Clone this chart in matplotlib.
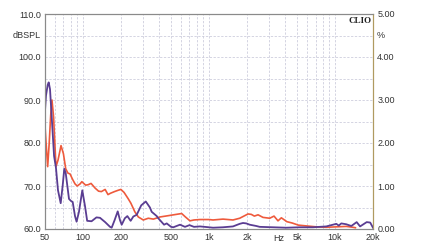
import matplotlib
matplotlib.use("Agg")
import matplotlib.pyplot as plt
from matplotlib.ticker import FixedLocator, NullFormatter, NullLocator

# ---- data ----
purple_freq = [50, 50.9, 52.5, 53.5, 54.8, 56.8, 59, 61.1, 63.4, 66.6, 69, 71.1, 73, 77.5,
               80.5, 82.9, 86.5, 89, 93, 98.8, 104, 108, 117, 128, 136.6, 150, 164, 169,
               178, 188.7, 197, 203, 215, 225, 239, 251, 267, 290, 315, 340, 351, 385,
               396, 440, 462, 500, 521, 589, 645, 700, 760, 848, 1000, 1076, 1291, 1550,
               1752, 1861, 1977, 2103, 2373, 2524, 3220, 4104, 5241, 6683, 8521, 9336,
               10228, 10700, 11208, 12280, 13456, 14845, 15800, 17825, 19000, 20000]
purple_db = [87.5, 91, 93.5, 94.1, 92.5, 85, 77, 74.2, 69, 66, 70, 74.0, 73, 67,
             66.5, 66.3, 63, 61.7, 64, 69, 65.2, 61.9, 61.8, 62.7, 62.6, 61.6, 60.5, 60.3,
             62, 64.1, 62, 61, 62.5, 63, 61.9, 62.9, 63.3, 65.5, 66.4, 65, 64, 63,
             62.5, 61, 61.3, 60.5, 60.4, 61, 60.5, 60.9, 60.5, 60.6, 60.4, 60.3, 60.4, 60.6,
             61.2, 61.4, 61.3, 61.0, 60.7, 60.5, 60.4, 60.3, 60.4, 60.4, 60.6, 60.9,
             61.2, 60.8, 61.3, 61.1, 60.7, 61.6, 60.6, 61.6, 61.5, 60.3]

red_freq = [50, 51, 52.5, 54, 55.5, 56.8, 58.5, 61.1, 63.4, 67, 70, 73, 76, 79, 82.9,
            86.5, 90, 95, 98, 105, 110, 116, 125, 133, 140, 150, 158, 165, 178, 190,
            200, 212, 229, 240, 258, 275, 301, 330, 362, 409, 475, 607, 650, 706, 760,
            848, 1000, 1076, 1291, 1550, 1752, 2040, 2165, 2290, 2450, 2681, 3030,
            3280, 3526, 3750, 4150, 4560, 5120, 6000, 7099, 8521, 10228, 12280, 13878,
            14500]
red_db = [84, 80, 74.5, 80, 86.5, 90, 86, 74.5, 76, 79.4, 77.5, 74, 73, 72.8, 71.5,
          70.5, 70, 70.5, 71, 70.2, 70.3, 70.6, 69.5, 68.8, 68.7, 69.2, 68.0, 68.3, 68.7, 69,
          69.2, 68.5, 67, 66, 64, 62.8, 62.1, 62.5, 62.3, 62.8, 63.1, 63.6, 62.8, 61.9, 62.1,
          62.2, 62.2, 62.1, 62.3, 62.1, 62.5, 63.5, 63.4, 63.0, 63.3, 62.7, 62.5,
          63.0, 61.9, 62.6, 61.7, 61.4, 60.9, 60.7, 60.5, 60.4, 60.5, 60.6, 60.4,
          60.3]

x_ticks = [50, 100, 200, 500, 1000, 2000, 5000, 10000, 20000]
x_tick_labels = ["50", "100", "200", "500", "1k", "2k", "5k", "10k", "20k"]
left_ticks = [60, 70, 80, 90, 100, 110]
left_tick_labels = ["60.0", "70.0", "80.0", "90.0", "100.0", "110.0"]
right_ticks = [0, 1, 2, 3, 4, 5]
right_tick_labels = ["0.00", "1.00", "2.00", "3.00", "4.00", "5.00"]

# ---- figure ----
plt.rcParams['font.family'] = ['Liberation Sans', 'DejaVu Sans']
fig = plt.figure(figsize=(4.27, 2.46), dpi=100)
ax = fig.add_axes([45/427, 1-229/246, (373-45)/427, (229-14)/246])

ax.set_xscale('log')
ax.set_xlim(50, 20000)
ax.set_ylim(60, 110)

grid_col = '#c9c9da'
vgrid = [50, 60, 70, 80, 90, 100, 200, 300, 400, 500, 600, 700, 800, 900,
         1000, 2000, 3000, 4000, 5000, 6000, 7000, 8000, 9000, 10000, 20000]
for v in vgrid:
    ax.axvline(v, color=grid_col, lw=0.55, ls=(0, (3, 2)), zorder=1)
for h in range(65, 110, 5):
    ax.axhline(h, color=grid_col, lw=0.55, ls=(0, (3, 2)), zorder=1)

ax.plot(red_freq, red_db, color='#ee5a3c', lw=1.2, zorder=3)
ax.plot(purple_freq, purple_db, color='#5a3d92', lw=1.3, zorder=4)

ax.xaxis.set_major_locator(FixedLocator(x_ticks))
ax.xaxis.set_minor_locator(NullLocator())
ax.xaxis.set_minor_formatter(NullFormatter())
ax.set_xticklabels(x_tick_labels)
ax.set_yticks(left_ticks)
ax.set_yticklabels(left_tick_labels)
ax.tick_params(axis='both', length=0, labelsize=6.5, colors='#333333', pad=3)

ax2 = ax.twinx()
ax2.set_ylim(0, 5)
ax2.set_yticks(right_ticks)
ax2.set_yticklabels(right_tick_labels)
ax2.tick_params(axis='y', length=0, labelsize=6.5, colors='#333333', pad=3)

for a in (ax, ax2):
    for s in ('left', 'bottom', 'top'):
        a.spines[s].set_color('#8a8a8a')
        a.spines[s].set_linewidth(0.8)
    a.spines['right'].set_color('#b09a60')
    a.spines['right'].set_linewidth(0.8)

ax.text(-0.012, 105, "dBSPL", transform=ax.get_yaxis_transform(), ha='right', va='center',
        fontsize=6.5, color='#333333')
ax2.text(1.012, 4.5, "%", transform=ax2.get_yaxis_transform(), ha='left', va='center',
         fontsize=6.5, color='#333333')
ax.text(0.995, 0.985, "CLIO", transform=ax.transAxes, ha='right', va='top',
        fontsize=6.5, fontweight='bold', family=['Liberation Serif', 'DejaVu Serif'], color='#222222')
ax.annotate("Hz", xy=(3600, 0), xycoords=ax.get_xaxis_transform(), xytext=(0, -3.5),
            textcoords='offset points', ha='center', va='top', fontsize=6.5, color='#333333')

fig.savefig("out.png", dpi=100)
